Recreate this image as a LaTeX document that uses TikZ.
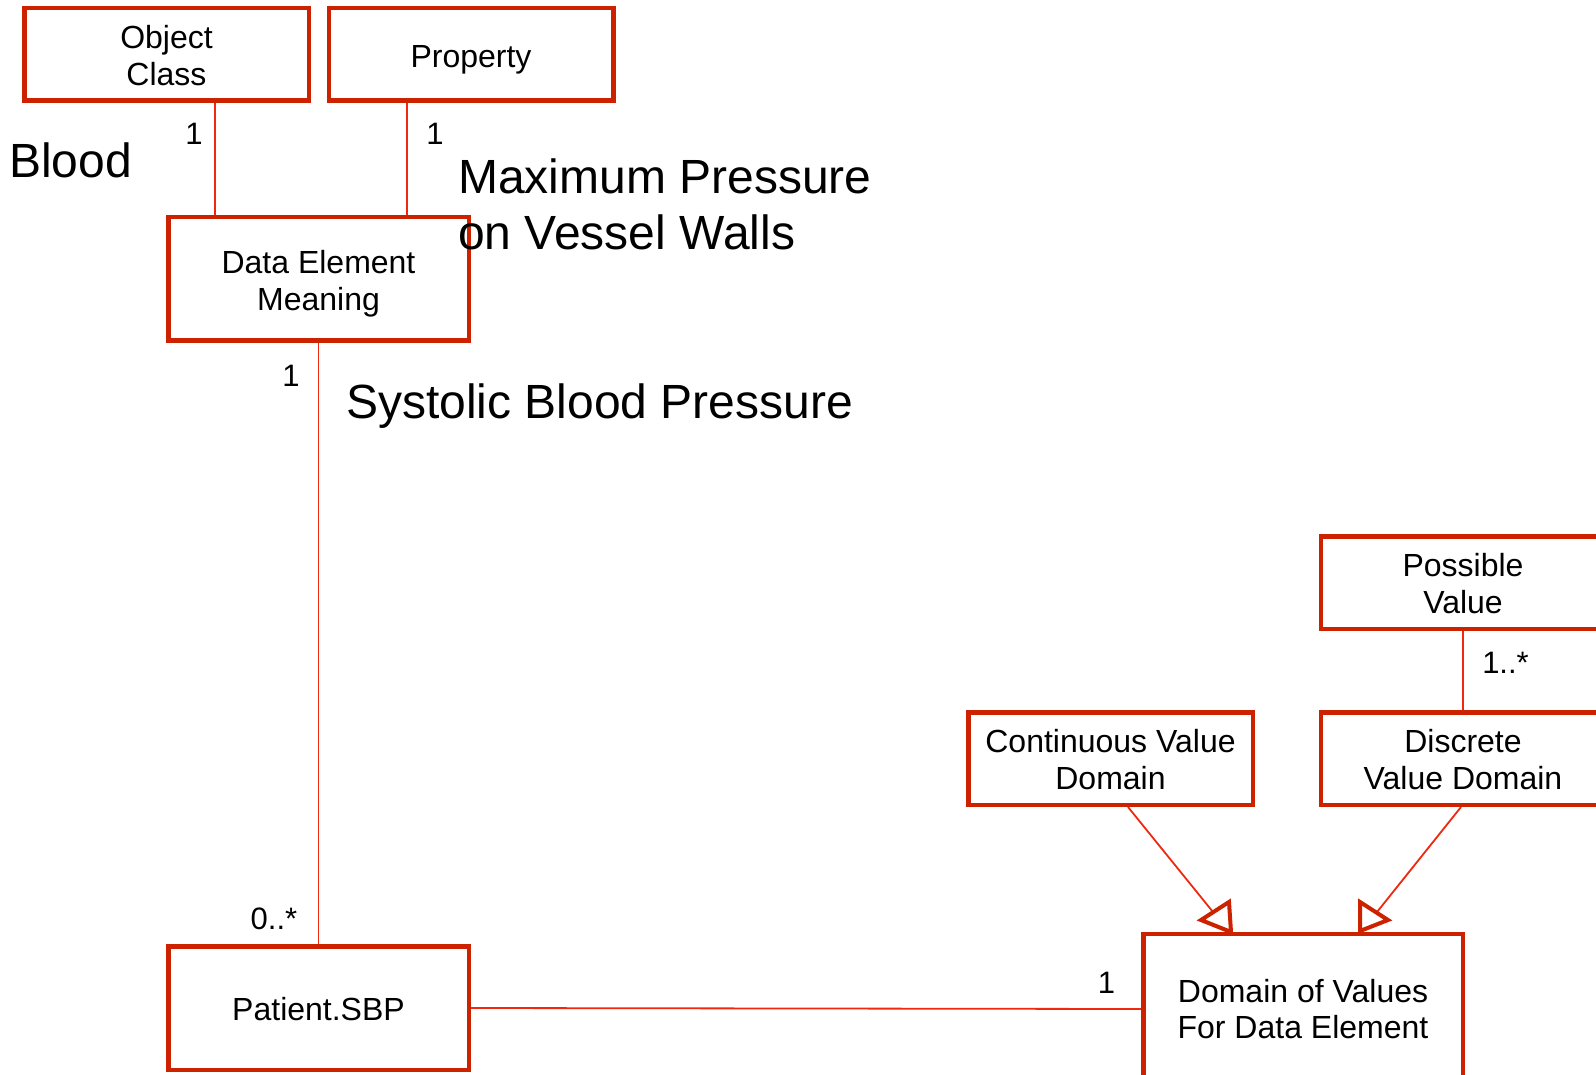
\documentclass[tikz,border=0pt]{standalone}
\usepackage{fontspec}
\setmainfont{Liberation Sans}
\usetikzlibrary{calc}
\definecolor{boxred}{RGB}{204,34,0}
\definecolor{linkred}{RGB}{240,40,16}
% fixed ascent (first line) and descent (last line) for class labels
\newcommand{\tp}{\rule{0pt}{32.5pt}}
\newcommand{\bt}{\rule[-7pt]{0pt}{7pt}}
\begin{document}
\begin{tikzpicture}[x=1pt,y=-1pt,
  cls/.style={draw=boxred, line width=4.5pt, fill=white, minimum width=284.5pt,
    minimum height=92.5pt, inner sep=0pt, align=center,
    font=\fontsize{32}{36.6}\selectfont},
  link/.style={draw=linkred, line width=1.8pt},
  mult/.style={inner sep=0pt, anchor=base, font=\fontsize{31}{36}\selectfont},
  note/.style={inner sep=0pt, anchor=base west, font=\fontsize{48}{56}\selectfont},
  gentri/.style={draw=boxred, line width=4pt, fill=white, line join=miter}]
\useasboundingbox (0,0) rectangle (1596,1075);
\clip (0,0) rectangle (1596,1075);
\fill[white] (0,0) rectangle (1596,1075);

% classes
\node[cls] (oc) at (166.5,54.5) {\tp Object\\Class\bt};
\node[cls] (prop) at (471,54.5) {\tp Property\bt};
\node[cls, minimum width=300.5pt, minimum height=123.5pt] (dem) at (318.5,279) {\tp Data Element\\Meaning\bt};
\node[cls, minimum width=300.5pt, minimum height=123.5pt] (pat) at (318.5,1008) {\tp Patient.SBP\bt};
\node[cls, minimum width=319.5pt, minimum height=150pt] (dom) at (1303,1009) {Domain of Values\\For Data Element};
\node[cls] (cvd) at (1110.5,758.5) {\tp Continuous Value\\Domain\bt};
\node[cls] (dvd) at (1463,758.5) {\tp Discrete\\Value Domain\bt};
\node[cls] (pv) at (1463,582.5) {\tp Possible\\Value\bt};

% associations
\coordinate (xoc) at (215,0);
\coordinate (xpr) at (407,0);
\draw[link] (oc.south -| xoc) -- (dem.north -| xoc);
\draw[link] (prop.south -| xpr) -- (dem.north -| xpr);
\draw[link] (dem.south) -- (pat.north);
\draw[link] (pat.east) -- (dom.west);
\draw[link] (pv.south) -- (dvd.north);

% generalizations
\coordinate (tlTip) at (1201,920);
\coordinate (tlTop) at (1229,902);
\coordinate (tlBot) at (1231,932);
\coordinate (jl) at (1213,912);
\coordinate (trTop) at (1360,902);
\coordinate (trTip) at (1388,920);
\coordinate (trBot) at (1360,931);
\coordinate (jr) at (1377,912);
\coordinate (xcv) at (1128,0);
\coordinate (xdv) at (1461,0);
\draw[link] (cvd.south -| xcv) -- (jl);
\draw[link] (dvd.south -| xdv) -- (jr);
\draw[gentri] (tlTip) -- (tlTop) -- (tlBot) -- cycle;
\draw[gentri] (trTop) -- (trTip) -- (trBot) -- cycle;

% multiplicities
\node[mult] (m1) at (194,144.5) {1};
\node[mult] (m2) at (435,144.5) {1};
\node[mult] (m3) at (291,386) {1};
\node[mult] (m4) at (274,929) {0..*};
\node[mult] (m5) at (1106.5,993.5) {1};
\node[mult] (m6) at (1505.5,673) {1..*};

% annotations
\node[note] (blood) at (9,178) {Blood};
\node[note] (mp1) at (458,193.5) {Maximum Pressure};
\node[note] (mp2) at (458,249.5) {on Vessel Walls};
\node[note] (sbp) at (346,418.5) {Systolic Blood Pressure};
\end{tikzpicture}
\end{document}
